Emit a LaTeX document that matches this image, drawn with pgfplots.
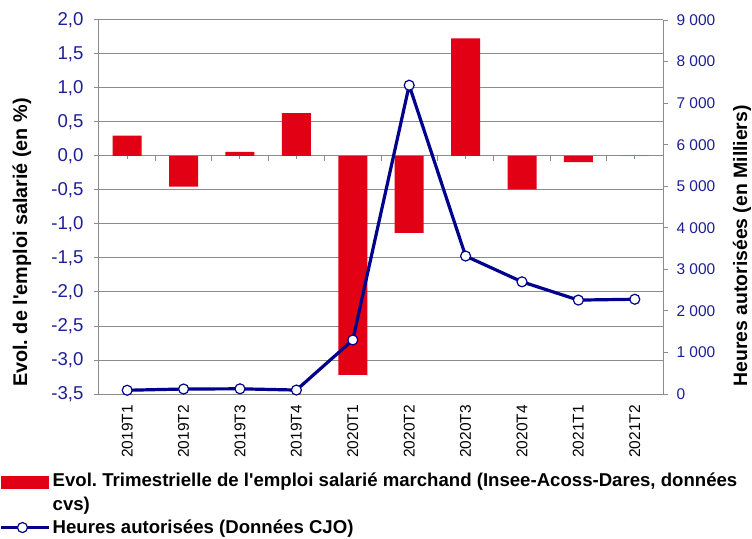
\documentclass[border=0pt]{standalone}
\usepackage{fontspec}
\setmainfont{Liberation Sans}
\usepackage{pgfplots}
\pgfplotsset{compat=1.18}
\definecolor{barred}{RGB}{225,0,20}
\definecolor{linenavy}{RGB}{0,0,140}
\definecolor{ticknavy}{RGB}{30,30,150}
\definecolor{gridgray}{RGB}{140,140,140}

% emploi salarie (en %), heures autorisees (en milliers)
\pgfplotstableread{
x emploi heures
0  0.30   90
1 -0.45  120
2  0.06  125
3  0.63   95
4 -3.22 1300
5 -1.13 7430
6  1.73 3320
7 -0.49 2700
8 -0.09 2260
9  0.00 2280
}\trim

\begin{document}
\frenchspacing
\begin{tikzpicture}
\useasboundingbox (-99pt,-144pt) rectangle (653pt,394pt);

\begin{axis}[
  scale only axis, width=564pt, height=374pt,
  xmin=-0.5, xmax=9.5, ymin=-3.5, ymax=2,
  axis x line*=bottom, axis y line*=left,
  axis line style={gridgray, line width=1pt, -},
  ytick={-3.5,-3,...,2},
  ymajorgrids, grid style={gridgray, line width=1pt},
  ytick align=outside, major tick length=5pt,
  tick style={gridgray, line width=1pt},
  xtick={0,...,9},
  xticklabels={2019T1,2019T2,2019T3,2019T4,2020T1,2020T2,2020T3,2020T4,2021T1,2021T2},
  xtick style={draw=none},
  xticklabel style={rotate=90, anchor=east, inner sep=0pt,
    font=\fontsize{15.5}{18}\selectfont},
  xticklabel shift=11pt,
  /pgf/number format/assume math mode=true,
  yticklabel shift=7pt,
  yticklabel style={text=ticknavy, font=\fontsize{18.6}{22}\selectfont,
    /pgf/number format/fixed, /pgf/number format/fixed zerofill,
    /pgf/number format/precision=1, /pgf/number format/use comma},
  ylabel={Evol. de l\textquotesingle emploi salarié (en \%)},
  ylabel style={font=\bfseries\fontsize{19.8}{23}\selectfont,
    at={(axis description cs:-0.1365,0.405)}, anchor=center},
]
\pgfplotsinvokeforeach{0.5,1.5,...,8.5}{
  \draw[gridgray, line width=1pt] (axis cs:#1,0) -- ++(0pt,-5pt);
}
\pgfplotsinvokeforeach{0,...,9}{
  \draw[gridgray, line width=1pt] (axis cs:#1,0) -- ++(0pt,-3pt);
}
\addplot[ybar, bar width=29pt, fill=barred, draw=none] table[x=x, y=emploi] {\trim};
\end{axis}

\begin{axis}[
  scale only axis, width=564pt, height=374pt,
  xmin=-0.5, xmax=9.5, ymin=0, ymax=9000,
  axis x line=none, axis y line*=right,
  axis line style={gridgray, line width=1pt, -},
  ytick={0,1000,...,9000}, scaled y ticks=false,
  ytick align=outside, major tick length=5pt,
  tick style={gridgray, line width=1pt},
  /pgf/number format/assume math mode=true,
  yticklabel shift=5pt,
  yticklabel style={text=ticknavy, font=\fontsize{15.5}{18}\selectfont,
    /pgf/number format/1000 sep={\ }},
  ylabel={Heures autorisées (en Milliers)},
  ylabel style={font=\bfseries\fontsize{19.4}{23}\selectfont,
    at={(axis description cs:1.14,0.396)}, anchor=center},
  legend cell align=left,
  legend style={at={(axis description cs:-0.1755,-0.2112)}, anchor=north west,
    draw=none, fill=none, inner sep=0pt, column sep=2pt, row sep=8.3pt,
    font=\bfseries\fontsize{18.6}{23}\selectfont,
    nodes={inner sep=0pt, anchor=base west}},
]
\addlegendimage{legend image code/.code={\fill[barred] (0pt,-1pt) rectangle (47pt,11pt);}}
\addlegendentry{Evol. Trimestrielle de l\textquotesingle emploi salarié marchand (Insee-Acoss-Dares, données}
\addlegendimage{empty legend}
\addlegendentry{cvs)}
\addplot[linenavy, line width=3.2pt, mark=*, mark size=5pt,
  mark options={fill=white, draw=linenavy, line width=1.2pt},
  legend image code/.code={
    \draw[linenavy, line width=2.5pt] (0pt,6pt) -- (48pt,6pt);
    \draw[linenavy, line width=1.2pt, fill=white] plot[mark=*, mark size=5pt, only marks] coordinates {(21pt,6pt)};}]
  table[x=x, y=heures] {\trim};
\addlegendentry{Heures autorisées (Données CJO)}
\end{axis}
\end{tikzpicture}
\end{document}
